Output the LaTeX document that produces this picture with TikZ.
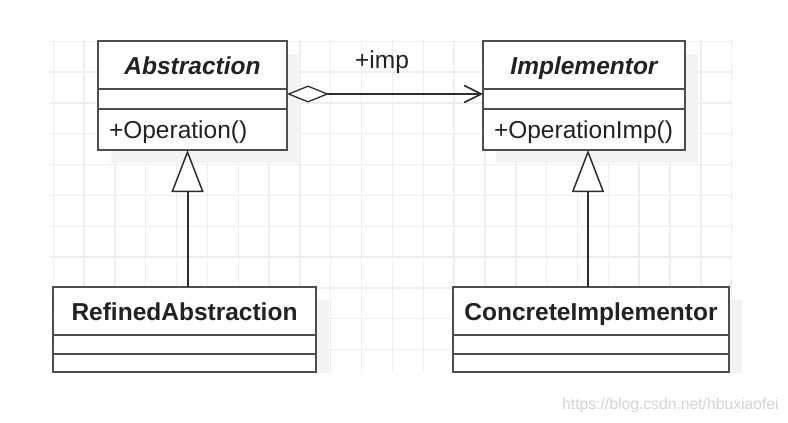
\documentclass[tikz,border=0pt]{standalone}
\usepackage{fontspec}
\setmainfont{Liberation Sans}
\usetikzlibrary{arrows.meta}
\definecolor{boxline}{RGB}{78,78,78}
\definecolor{gridc}{RGB}{238,238,238}
\definecolor{shadowc}{RGB}{243,243,243}
\definecolor{textc}{RGB}{34,34,34}
\definecolor{wmark}{RGB}{212,212,212}
\definecolor{linkc}{RGB}{45,45,45}
\begin{document}
\begin{tikzpicture}[x=1pt,y=-1pt,
  gridline/.style={draw=gridc, line width=1.4pt},
  shadowbox/.style={fill=shadowc},
  part/.style={draw=boxline, line width=2.2pt, fill=white, inner sep=0pt, outer sep=0pt, anchor=north west, text=textc},
  namepart/.style={part, minimum height=48pt, text height=18.5pt, text depth=0pt, font=\fontsize{24.5}{28}\selectfont\bfseries},
  abstractname/.style={namepart, font=\fontsize{24.5}{28}\selectfont\bfseries\itshape},
  opspart/.style={part, align=left, inner xsep=11pt, text height=17pt, text depth=0pt, font=\fontsize{24.5}{28}\selectfont},
  label/.style={text=textc, font=\fontsize{24.5}{28}\selectfont},
  assoc/.style={draw=linkc, line width=2.4pt,
    {Diamond[fill=white,length=42pt,width=17pt,line width=1.3pt]}-{Straight Barb[length=17pt,width=17pt,line width=1.6pt]}},
  gen/.style={draw=linkc, line width=2pt,
    -{Triangle[fill=white,length=42pt,width=32pt,line width=1.5pt]}}
]
\useasboundingbox (0,0) rectangle (788,423);
\fill[white] (0,0) rectangle (788,423);

% grid
\foreach \k in {0,...,22} \draw[gridline] ({53.2+30.84*\k},40) -- ({53.2+30.84*\k},373);
\foreach \m in {0,...,10} \draw[gridline] (50,{41.2+30.84*\m}) -- (732,{41.2+30.84*\m});

% shadows
\fill[shadowbox] (111,54) rectangle (300,163);
\fill[shadowbox] (496,54) rectangle (698,163);
\fill[shadowbox] (66,300) rectangle (329,373);
\fill[shadowbox] (466,300) rectangle (742,373);

% Abstraction
\node[abstractname, minimum width=189pt] (absName) at (98,41) {Abstraction};
\node[part, minimum width=189pt, minimum height=20pt] (absAttr) at (absName.south west) {};
\node[opspart, text width=167pt, minimum height=41pt] (absOps) at (absAttr.south west) {+Operation()};

% Implementor
\node[abstractname, minimum width=202pt] (impName) at (483,41) {Implementor};
\node[part, minimum width=202pt, minimum height=20pt] (impAttr) at (impName.south west) {};
\node[opspart, text width=180pt, minimum height=41pt] (impOps) at (impAttr.south west) {+OperationImp()};

% RefinedAbstraction
\node[namepart, minimum width=263pt] (refName) at (53,287) {RefinedAbstraction};
\node[part, minimum width=263pt, minimum height=19pt] (refAttr) at (refName.south west) {};
\node[part, minimum width=263pt, minimum height=18pt] (refOps) at (refAttr.south west) {};

% ConcreteImplementor
\node[namepart, minimum width=276pt] (conName) at (453,287) {ConcreteImplementor};
\node[part, minimum width=276pt, minimum height=19pt] (conAttr) at (conName.south west) {};
\node[part, minimum width=276pt, minimum height=18pt] (conOps) at (conAttr.south west) {};

% association
\draw[assoc] ([yshift=-5pt]absAttr.north east) -- ([yshift=-5pt]impAttr.north west);
\node[label] (impLabel) at (382,62) {+imp};

% generalizations
\draw[gen] ([xshift=3pt]refName.north) -- ([xshift=3pt]refName.north |- absOps.south);
\draw[gen] ([xshift=-3pt]conName.north) -- ([xshift=-3pt]conName.north |- impOps.south);

% watermark
\node[text=wmark, anchor=west, inner sep=0pt, font=\fontsize{15.7}{18}\selectfont] (wm) at (562,405) {https://blog.csdn.net/hbuxiaofei};
\end{tikzpicture}
\end{document}
